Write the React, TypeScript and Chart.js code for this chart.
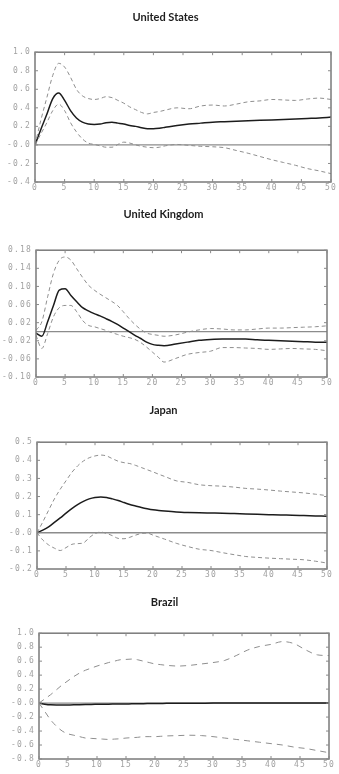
import React, { useEffect, useRef } from 'react';
import { Chart, registerables } from 'chart.js';

Chart.register(...registerables);

const periods = [0, 1, 2, 3, 4, 5, 6, 7, 8, 9, 10, 11, 12, 13, 14, 15, 16, 17, 18, 19, 20, 21, 22, 24, 26, 28, 30, 32, 34, 36, 38, 40, 42, 44, 46, 48, 50];

const xTicks = [0, 5, 10, 15, 20, 25, 30, 35, 40, 45, 50];
const xLabels = ['0', '5', '10', '15', '20', '25', '30', '35', '40', '45', '50'];

// United States
const usResponse = [0, 0.17, 0.33, 0.5, 0.56, 0.48, 0.37, 0.29, 0.245, 0.225, 0.22, 0.225, 0.24, 0.245, 0.235, 0.225, 0.21, 0.2, 0.185, 0.175, 0.175, 0.18, 0.19, 0.21, 0.225, 0.235, 0.245, 0.25, 0.255, 0.26, 0.265, 0.27, 0.275, 0.28, 0.285, 0.29, 0.3];
const usUpper = [0, 0.27, 0.51, 0.75, 0.88, 0.84, 0.73, 0.6, 0.53, 0.5, 0.49, 0.5, 0.52, 0.51, 0.48, 0.45, 0.41, 0.38, 0.35, 0.335, 0.35, 0.36, 0.375, 0.4, 0.39, 0.42, 0.43, 0.42, 0.44, 0.465, 0.475, 0.49, 0.485, 0.48, 0.495, 0.505, 0.49];
const usLower = [0, 0.12, 0.24, 0.37, 0.44, 0.37, 0.24, 0.14, 0.065, 0.02, 0.005, -0.01, -0.025, -0.025, 0.005, 0.03, 0.02, 0, -0.015, -0.025, -0.03, -0.025, -0.01, 0.005, -0.005, -0.015, -0.02, -0.03, -0.06, -0.09, -0.125, -0.16, -0.19, -0.22, -0.255, -0.28, -0.31];
const usYTicks = [-0.4, -0.2, 0, 0.2, 0.4, 0.6, 0.8, 1.0];
const usYLabels = ['-0.4', '-0.2', '-0.0', '0.2', '0.4', '0.6', '0.8', '1.0'];

// United Kingdom
const ukResponse = [-0.003, -0.01, 0.022, 0.058, 0.092, 0.095, 0.08, 0.066, 0.053, 0.046, 0.04, 0.035, 0.029, 0.023, 0.016, 0.008, 0, -0.008, -0.015, -0.023, -0.028, -0.03, -0.031, -0.027, -0.023, -0.019, -0.017, -0.016, -0.016, -0.016, -0.018, -0.019, -0.02, -0.021, -0.022, -0.023, -0.023];
const ukUpper = [0.003, 0.022, 0.077, 0.129, 0.158, 0.165, 0.158, 0.139, 0.12, 0.103, 0.092, 0.083, 0.075, 0.067, 0.058, 0.044, 0.029, 0.016, 0.005, -0.003, -0.006, -0.008, -0.01, -0.007, -0.001, 0.004, 0.007, 0.006, 0.004, 0.004, 0.006, 0.008, 0.008, 0.009, 0.01, 0.011, 0.013];
const ukLower = [-0.008, -0.037, -0.004, 0.033, 0.053, 0.058, 0.058, 0.044, 0.025, 0.014, 0.011, 0.007, 0.003, -0.002, -0.006, -0.01, -0.013, -0.017, -0.024, -0.034, -0.045, -0.056, -0.067, -0.059, -0.05, -0.046, -0.043, -0.035, -0.035, -0.036, -0.037, -0.039, -0.038, -0.037, -0.038, -0.039, -0.042];
const ukYTicks = [-0.1, -0.06, -0.02, 0.02, 0.06, 0.1, 0.14, 0.18];
const ukYLabels = ['-0.10', '-0.06', '-0.02', '0.02', '0.06', '0.10', '0.14', '0.18'];

// Japan
const jpResponse = [0, 0.015, 0.033, 0.057, 0.082, 0.108, 0.133, 0.155, 0.173, 0.187, 0.195, 0.198, 0.195, 0.187, 0.178, 0.167, 0.156, 0.148, 0.14, 0.133, 0.127, 0.123, 0.12, 0.115, 0.112, 0.11, 0.109, 0.108, 0.106, 0.104, 0.102, 0.1, 0.098, 0.097, 0.095, 0.093, 0.091];
const jpUpper = [0, 0.06, 0.124, 0.187, 0.24, 0.287, 0.333, 0.369, 0.396, 0.414, 0.424, 0.429, 0.424, 0.409, 0.395, 0.387, 0.382, 0.372, 0.36, 0.348, 0.336, 0.323, 0.311, 0.287, 0.278, 0.265, 0.26, 0.257, 0.252, 0.245, 0.241, 0.236, 0.23, 0.225, 0.22, 0.213, 0.205];
const jpLower = [0, -0.04, -0.067, -0.085, -0.098, -0.082, -0.064, -0.06, -0.056, -0.027, -0.005, 0.004, -0.004, -0.016, -0.031, -0.033, -0.025, -0.013, -0.004, -0.002, -0.013, -0.024, -0.035, -0.058, -0.076, -0.091, -0.098, -0.11, -0.121, -0.131, -0.136, -0.14, -0.143, -0.146, -0.149, -0.157, -0.167];
const jpYTicks = [-0.2, -0.1, 0, 0.1, 0.2, 0.3, 0.4, 0.5];
const jpYLabels = ['-0.2', '-0.1', '-0.0', '0.1', '0.2', '0.3', '0.4', '0.5'];

// Brazil
const brResponse = [0, -0.015, -0.025, -0.027, -0.027, -0.026, -0.025, -0.023, -0.021, -0.019, -0.018, -0.017, -0.015, -0.014, -0.013, -0.012, -0.011, -0.01, -0.008, -0.007, -0.006, -0.005, -0.004, -0.003, -0.002, -0.001, 0, 0, 0, 0, 0, 0, 0, 0, 0, 0, 0];
const brUpper = [0, 0.06, 0.12, 0.19, 0.26, 0.32, 0.38, 0.43, 0.47, 0.5, 0.53, 0.555, 0.58, 0.6, 0.62, 0.625, 0.63, 0.62, 0.6, 0.58, 0.56, 0.55, 0.54, 0.53, 0.54, 0.56, 0.58, 0.61, 0.68, 0.76, 0.81, 0.84, 0.88, 0.85, 0.76, 0.69, 0.68];
const brLower = [0, -0.12, -0.24, -0.33, -0.4, -0.44, -0.46, -0.48, -0.5, -0.505, -0.51, -0.515, -0.52, -0.515, -0.51, -0.5, -0.495, -0.49, -0.48, -0.48, -0.48, -0.475, -0.47, -0.465, -0.46, -0.465, -0.48, -0.5, -0.52, -0.54, -0.56, -0.58, -0.6, -0.63, -0.65, -0.68, -0.71];
const brYTicks = [-0.8, -0.6, -0.4, -0.2, 0, 0.2, 0.4, 0.6, 0.8, 1.0];
const brYLabels = ['-0.8', '-0.6', '-0.4', '-0.2', '-0.0', '0.2', '0.4', '0.6', '0.8', '1.0'];

type PanelCfg = {
  title: string;
  response: number[];
  upper: number[];
  lower: number[];
  yTicks: number[];
  yLabels: string[];
  top: number;
  height: number;
  titlePadBottom: number;
  plotLeft: number;
  plotRight: number;
  dash: number[];
};

const panels: PanelCfg[] = [
  { title: 'United States', response: usResponse, upper: usUpper, lower: usLower, yTicks: usYTicks, yLabels: usYLabels, top: 5, height: 191, titlePadBottom: 28, plotLeft: 35, plotRight: 331, dash: [4, 3] },
  { title: 'United Kingdom', response: ukResponse, upper: ukUpper, lower: ukLower, yTicks: ukYTicks, yLabels: ukYLabels, top: 202, height: 189, titlePadBottom: 29, plotLeft: 36, plotRight: 327, dash: [4, 3] },
  { title: 'Japan', response: jpResponse, upper: jpUpper, lower: jpLower, yTicks: jpYTicks, yLabels: jpYLabels, top: 398, height: 185, titlePadBottom: 25, plotLeft: 37, plotRight: 327, dash: [4, 3] },
  { title: 'Brazil', response: brResponse, upper: brUpper, lower: brLower, yTicks: brYTicks, yLabels: brYLabels, top: 590, height: 183, titlePadBottom: 24, plotLeft: 39, plotRight: 329, dash: [6, 5] },
];

const tickFont = { family: 'DejaVu Sans Mono', size: 8 };
const tickColor = '#a2a2a2';

const framePlugin = {
  id: 'frame',
  beforeDraw(chart: any) {
    chart.ctx.letterSpacing = '0px';
  },
  beforeDatasetsDraw(chart: any) {
    const { ctx, chartArea: a, scales } = chart;
    const y0 = scales.y.getPixelForValue(0);
    ctx.save();
    ctx.strokeStyle = '#8c8c8c';
    ctx.lineWidth = 1.3;
    ctx.beginPath();
    ctx.moveTo(a.left, y0);
    ctx.lineTo(a.right, y0);
    ctx.stroke();
    ctx.restore();
  },
  afterDatasetsDraw(chart: any) {
    const { ctx, chartArea: a, scales } = chart;
    ctx.save();
    ctx.strokeStyle = '#7a7a7a';
    ctx.lineWidth = 1.5;
    ctx.strokeRect(a.left, a.top, a.right - a.left, a.bottom - a.top);
    ctx.lineWidth = 1;
    ctx.strokeStyle = '#8a8a8a';
    ctx.beginPath();
    for (const t of scales.y.ticks) {
      const y = scales.y.getPixelForValue(t.value);
      ctx.moveTo(a.left, y);
      ctx.lineTo(a.left + 3, y);
      ctx.moveTo(a.right, y);
      ctx.lineTo(a.right - 3, y);
    }
    for (const t of scales.x.ticks) {
      const x = scales.x.getPixelForValue(t.value);
      ctx.moveTo(x, a.top);
      ctx.lineTo(x, a.top + 3);
      ctx.moveTo(x, a.bottom);
      ctx.lineTo(x, a.bottom - 3);
    }
    ctx.stroke();
    ctx.restore();
    ctx.letterSpacing = '1.2px';
  },
  afterDraw(chart: any) {
    chart.ctx.letterSpacing = '0px';
  },
};

function Panel({ cfg }: { cfg: PanelCfg }) {
  const ref = useRef<HTMLCanvasElement>(null);
  useEffect(() => {
    const canvas = ref.current!;
    const pts = (vals: number[]) => periods.map((p, i) => ({ x: p, y: vals[i] }));
    const chart = new Chart(canvas, {
      type: 'line',
      data: {
        datasets: [
          { label: 'Upper', data: pts(cfg.upper), borderColor: '#8f8f8f', borderWidth: 1, borderDash: cfg.dash, pointRadius: 0, cubicInterpolationMode: 'monotone', fill: false },
          { label: 'Lower', data: pts(cfg.lower), borderColor: '#8f8f8f', borderWidth: 1, borderDash: cfg.dash, pointRadius: 0, cubicInterpolationMode: 'monotone', fill: false },
          { label: 'Response', data: pts(cfg.response), borderColor: '#1c1c1c', borderWidth: 1.5, pointRadius: 0, cubicInterpolationMode: 'monotone', fill: false },
        ],
      },
      options: {
        responsive: false,
        maintainAspectRatio: false,
        animation: false,
        devicePixelRatio: 1,
        layout: { padding: { left: 0, right: 339 - cfg.plotRight, top: 0, bottom: 0 } },
        plugins: {
          legend: { display: false },
          tooltip: { enabled: false },
          title: {
            display: true,
            text: cfg.title,
            color: '#1e1e1e',
            font: { family: 'Lato', weight: 'bold', size: 11, lineHeight: 1.2 },
            padding: { top: 6, bottom: cfg.titlePadBottom },
          },
        },
        scales: {
          x: {
            type: 'linear',
            min: 0,
            max: 50,
            afterBuildTicks: (s: any) => { s.ticks = xTicks.map((v) => ({ value: v })); },
            afterFit: (s: any) => { s.height = 14; },
            grid: { display: false, drawTicks: false },
            border: { display: false },
            ticks: {
              z: 1,
              padding: 1,
              color: tickColor,
              font: tickFont,
              autoSkip: false,
              maxRotation: 0,
              callback: (_v: any, i: number) => xLabels[i],
            },
          },
          y: {
            type: 'linear',
            min: cfg.yTicks[0],
            max: cfg.yTicks[cfg.yTicks.length - 1],
            afterBuildTicks: (s: any) => { s.ticks = cfg.yTicks.map((v) => ({ value: v })); },
            afterFit: (s: any) => { s.width = cfg.plotLeft; },
            grid: { display: false, drawTicks: false },
            border: { display: false },
            ticks: {
              z: 1,
              padding: 4,
              color: tickColor,
              font: tickFont,
              autoSkip: false,
              callback: (_v: any, i: number) => cfg.yLabels[i],
            },
          },
        },
      },
      plugins: [framePlugin],
    } as any);
    return () => chart.destroy();
  }, [cfg]);
  return (
    <canvas
      ref={ref}
      width={339}
      height={cfg.height}
      style={{ position: 'absolute', left: 0, top: cfg.top, width: 339, height: cfg.height, display: 'block' }}
    />
  );
}

export default function App() {
  return (
    <div style={{ position: 'absolute', left: 0, top: 0, width: 339, height: 774, background: '#ffffff' }}>
      {panels.map((p) => (
        <Panel key={p.title} cfg={p} />
      ))}
    </div>
  );
}
